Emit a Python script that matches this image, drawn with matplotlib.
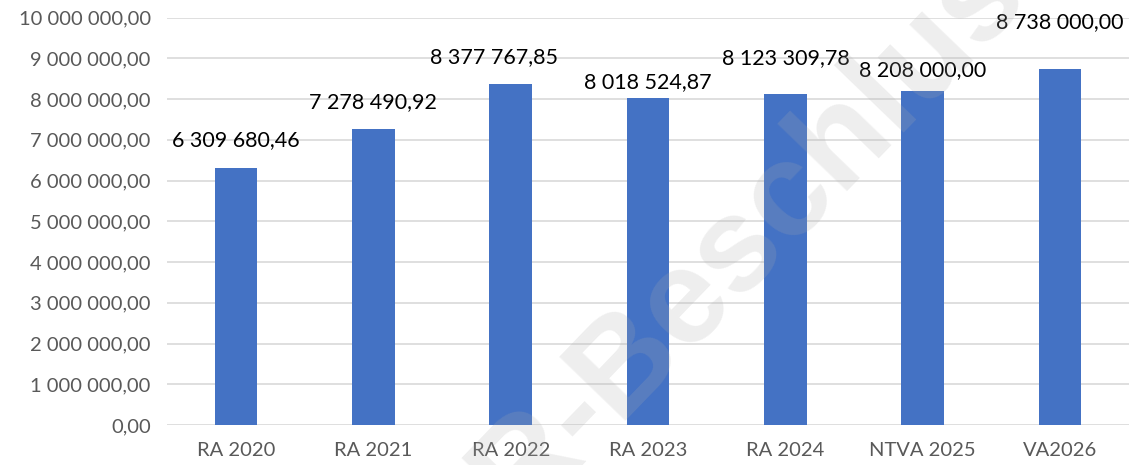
"""Balkendiagramm RA/VA-Werte als PNG speichern."""

import matplotlib

matplotlib.use("Agg")
import matplotlib.pyplot as plt
from matplotlib.ticker import FuncFormatter

plt.rcParams["font.family"] = ["Lato", "DejaVu Sans"]

categories = ["RA 2020", "RA 2021", "RA 2022", "RA 2023", "RA 2024", "NTVA 2025", "VA2026"]
values = [6309680.46, 7278490.92, 8377767.85, 8018524.87, 8123309.78, 8208000.00, 8738000.00]
# Excel-Beschriftungen sind teils manuell verschoben (dx, dy in Punkt)
label_offsets = [(0, 20), (0, 19), (-12, 19), (0, 12), (0, 26), (0, 15), (0, 34)]

BAR_COLOR = "#4472C4"
GRID_COLOR = "#D9D9D9"


def fmt_de(v, pos=None):
    s = f"{v:,.2f}"
    return s.replace(",", " ").replace(".", ",")


fig, ax = plt.subplots(figsize=(11.31, 4.65), dpi=100)
fig.subplots_adjust(left=0.148, right=0.998, top=0.962, bottom=0.086)

x = range(len(categories))
ax.bar(x, values, width=0.31, color=BAR_COLOR, zorder=2)

for i, (v, (dx, dy)) in enumerate(zip(values, label_offsets)):
    ax.annotate(fmt_de(v), (i, v), xytext=(dx, dy), textcoords="offset points",
                ha="center", va="center", fontsize=15.5, color="black")

ax.set_xlim(-0.5, len(categories) - 0.5)
ax.set_ylim(0, 10_000_000)
ax.set_yticks(range(0, 10_000_001, 1_000_000))
ax.yaxis.set_major_formatter(FuncFormatter(fmt_de))
ax.set_xticks(list(x))
ax.set_xticklabels(categories)

ax.grid(axis="y", color=GRID_COLOR, linewidth=1.2, zorder=0)
ax.set_axisbelow(True)
for side in ["top", "right", "left", "bottom"]:
    ax.spines[side].set_visible(False)
ax.tick_params(axis="both", length=0, labelsize=14.5, colors="#595959")
ax.tick_params(axis="y", pad=12)
ax.tick_params(axis="x", pad=12)

# Wasserzeichen
fig.text(0.655, 0.47, "GR-Beschluss", fontsize=96, fontweight="bold",
         family="Liberation Sans", color=(0.68, 0.68, 0.68), alpha=0.2,
         rotation=46, ha="center", va="center", zorder=10)

fig.savefig("out.png", dpi=100)
plt.close(fig)
